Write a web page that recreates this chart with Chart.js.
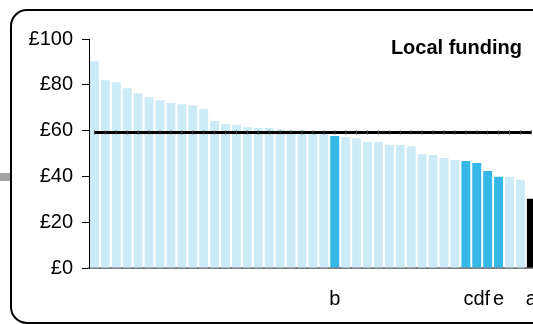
<!DOCTYPE html>
<html>
<head>
<meta charset="utf-8">
<script src="https://cdn.jsdelivr.net/npm/chart.js@4/dist/chart.umd.min.js"></script>
<style>
  html, body { margin: 0; padding: 0; width: 533px; height: 324px; overflow: hidden; background: #fff; }
  #frame { position: absolute; left: 10px; top: 9px; width: 620px; height: 311px; border: 2px solid #000; border-radius: 17px; }
  #stub { position: absolute; left: 0; top: 173px; width: 10px; height: 8px; background: #a3a3a3; }
  #wrap { position: absolute; left: 0; top: 0; width: 556px; height: 324px; }
</style>
</head>
<body>
<div id="stub"></div>
<div id="frame"></div>
<div id="wrap"><canvas id="c" width="556" height="324"></canvas></div>
<script>
const categories = ['', '', '', '', '', '', '', '', '', '', '', '', '', '', '', '', '', '', '', '', '', '', 'b', '', '', '', '', '', '', '', '', '', '', '', '', 'cdf', '', 'e', '', '', 'a'];
const fundingValues = [90.3, 82.0, 81.1, 78.5, 76.3, 74.6, 73.3, 72.0, 71.5, 71.1, 69.4, 64.2, 62.9, 62.4, 61.5, 61.1, 61.1, 60.6, 60.2, 60.2, 59.5, 59.3, 57.6, 57.2, 56.7, 55.0, 55.0, 53.7, 53.7, 53.2, 49.8, 49.3, 48.0, 47.2, 46.7, 45.9, 42.4, 39.8, 39.8, 38.5, 30.2];
const highlightedIdx = [22, 34, 35, 36, 37];
const focusIdx = [40];
const averageValue = 59.2;
const yTicks = [0, 20, 40, 60, 80, 100];
const titleText = 'Local funding';

const LIGHT = '#cdebf7', DARK = '#35b8e7', BLACK = '#000000';
const barColors = fundingValues.map((v, i) => focusIdx.includes(i) ? BLACK : (highlightedIdx.includes(i) ? DARK : LIGHT));
const averageLine = fundingValues.map(() => averageValue);
const FONT = "'Liberation Sans', Arial, sans-serif";

const titlePlugin = {
  id: 'cornerTitle',
  afterDraw(chart) {
    const ctx = chart.ctx;
    ctx.save();
    ctx.font = 'bold 20px ' + FONT;
    ctx.fillStyle = '#000';
    ctx.textAlign = 'right';
    ctx.textBaseline = 'alphabetic';
    ctx.fillText(titleText, 522, 54);
    ctx.restore();
  }
};

new Chart(document.getElementById('c'), {
  data: {
    labels: categories,
    datasets: [
      {
        type: 'line',
        data: averageLine,
        borderColor: '#000',
        borderWidth: 3,
        pointStyle: 'line',
        rotation: 90,
        pointRadius: 2,
        pointBorderColor: '#444',
        pointBorderWidth: 1,
        fill: false,
        order: 0
      },
      {
        type: 'bar',
        data: fundingValues,
        backgroundColor: barColors,
        barPercentage: 0.82,
        categoryPercentage: 1.0,
        order: 1
      }
    ]
  },
  options: {
    responsive: false,
    animation: false,
    events: [],
    layout: { padding: { left: 0, top: 39, right: 7, bottom: 14 } },
    plugins: { legend: { display: false }, tooltip: { enabled: false } },
    scales: {
      x: {
        afterFit(scale) { scale.height = 42; },
        grid: { display: false, drawTicks: false },
        border: { display: true, color: '#808080', width: 2 },
        ticks: { autoSkip: false, maxRotation: 0, minRotation: 0, padding: 19, color: '#000', font: { family: FONT, size: 20 } }
      },
      y: {
        min: 0, max: 100,
        afterFit(scale) { scale.width = 89; },
        afterBuildTicks(scale) { scale.ticks = yTicks.map(v => ({ value: v })); },
        grid: { drawOnChartArea: false, drawTicks: true, tickLength: 7, color: '#000', tickWidth: 1 },
        border: { display: true, color: '#000', width: 1 },
        ticks: { padding: 9, color: '#000', font: { family: FONT, size: 20 }, callback: v => '£' + v }
      }
    }
  },
  plugins: [titlePlugin]
});
</script>
</body>
</html>
